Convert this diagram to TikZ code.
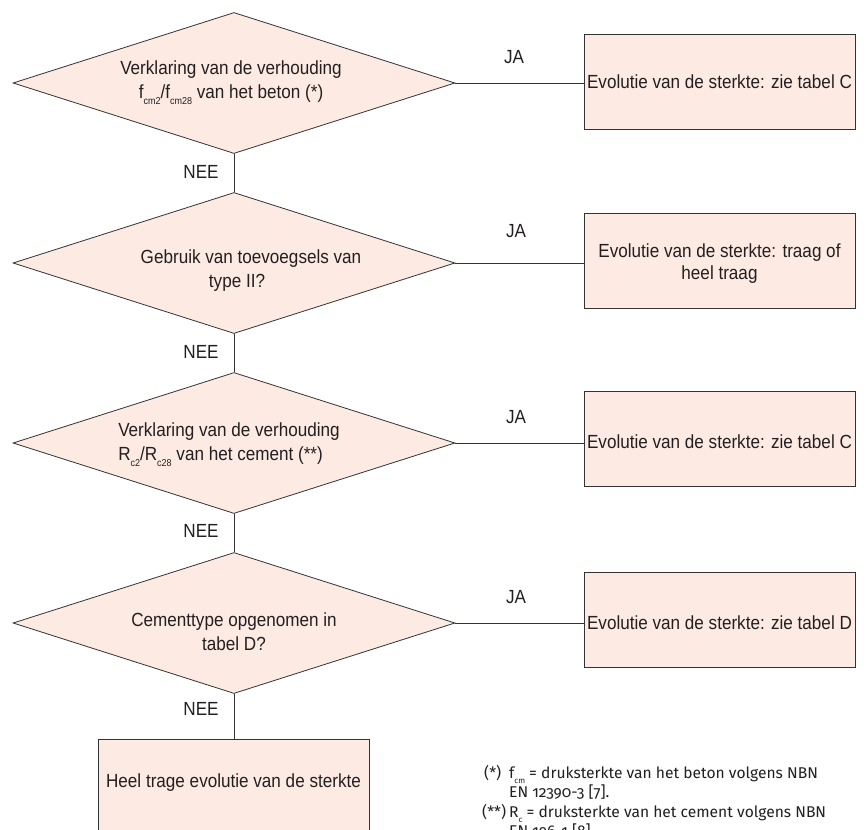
\documentclass[tikz,border=0pt]{standalone}
\usepackage{fontspec}
\setmainfont{Liberation Sans}[FakeStretch=0.9]
\newfontfamily\fnfont{Fira Sans}[Numbers=OldStyle]
\usetikzlibrary{shapes.geometric}
\definecolor{boxfill}{HTML}{FCEAE3}
\definecolor{edge}{HTML}{333333}
\definecolor{ink}{HTML}{231F20}
\newcommand\lsub[1]{\smash{\raisebox{-0.3em}{\fontsize{10}{10}\selectfont #1}}}
\newcommand\fsub[1]{\smash{\raisebox{-0.35em}{\fontsize{8}{8}\selectfont #1}}}
\tikzset{
  decision/.style={diamond, draw=edge, fill=boxfill, line width=0.8pt, inner sep=0pt,
    minimum width=442pt, minimum height=141pt},
  outcome/.style={rectangle, draw=edge, fill=boxfill, line width=0.8pt, inner sep=0pt,
    minimum width=271pt, minimum height=95pt},
  dtext/.style={text=ink, font=\fontsize{19}{24}\selectfont, align=center, inner sep=0pt},
  otext/.style={text=ink, font=\fontsize{19}{22}\selectfont, align=center, inner sep=0pt},
  lbl/.style={text=ink, font=\fontsize{19}{22}\selectfont, inner sep=0pt},
  link/.style={draw=edge, line width=0.8pt},
  fn/.style={text=ink, font=\fnfont\fontsize{15.6}{19.5}\selectfont, inner sep=0pt, anchor=base west}
}
\begin{document}
\begin{tikzpicture}[x=1pt,y=-1pt]
\useasboundingbox (0,0) rectangle (866,829);
\clip (0,0) rectangle (866,829);

% decisions
\node[decision] (d1) at (234,83) {};
\node[decision] (d2) at (234,263) {};
\node[decision] (d3) at (234,443) {};
\node[decision] (d4) at (234,623) {};

\node[dtext] (t1) at (231,82) {Verklaring van de verhouding\\f\lsub{cm2}/f\lsub{cm28} van het beton (*)};
\node[dtext] (t2) at (251,271) {Gebruik van toevoegsels van\\type II?\hspace*{28pt}};
\node[dtext, align=left] (t3) at (229,444) {Verklaring van de verhouding\\R\lsub{c2}/R\lsub{c28} van het cement (**)};
\node[dtext] (t4) at (234,632) {Cementtype opgenomen in\\tabel D?};

% outcomes
\node[outcome] (b1) at (719.5,81.5) {};
\node[otext] at (b1.center) {Evolutie van de sterkte: zie tabel C};
\node[outcome] (b2) at (719.5,261) {};
\node[otext] at (719.5,264) {Evolutie van de sterkte: traag of\\heel traag};
\node[outcome] (b3) at (719.5,439) {};
\node[otext] at (719.5,442) {Evolutie van de sterkte: zie tabel C};
\node[outcome] (b4) at (719.5,620) {};
\node[otext] at (719.5,623) {Evolutie van de sterkte: zie tabel D};
\node[outcome, anchor=north, minimum height=110pt] (b5) at (233.5,739) {};
\node[otext] (t5) at (233.5,783) {Heel trage evolutie van de sterkte};

% connectors
\draw[link] (d1.east) -- (d1.east -| b1.west);
\draw[link] (d2.east) -- (d2.east -| b2.west);
\draw[link] (d3.east) -- (d3.east -| b3.west);
\draw[link] (d4.east) -- (d4.east -| b4.west);
\draw[link] (d1.south) -- (d2.north);
\draw[link] (d2.south) -- (d3.north);
\draw[link] (d3.south) -- (d4.north);
\draw[link] (d4.south) -- (d4.south |- b5.north);

% labels
\node[lbl] (ja1) at (514,57) {JA};
\node[lbl] (ja2) at (516,231) {JA};
\node[lbl] (ja3) at (516,417) {JA};
\node[lbl] (ja4) at (516,597) {JA};
\node[lbl] (nee1) at (201,172) {NEE};
\node[lbl] (nee2) at (201,352) {NEE};
\node[lbl] (nee3) at (201,531) {NEE};
\node[lbl] (nee4) at (201,709) {NEE};

% footnotes
\node[fn] (f1) at (484,778) {(*)};
\node[fn] (f1t) at (509,778) {f\fsub{cm} = druksterkte van het beton volgens NBN};
\node[fn] (f2t) at (509,797.5) {EN 12390-3 [7].};
\node[fn] (f3) at (482,817) {(**)};
\node[fn] (f3t) at (509,817) {R\fsub{c} = druksterkte van het cement volgens NBN};
\node[fn] (f4t) at (509,836.5) {EN 196-1 [8].};
\end{tikzpicture}
\end{document}
